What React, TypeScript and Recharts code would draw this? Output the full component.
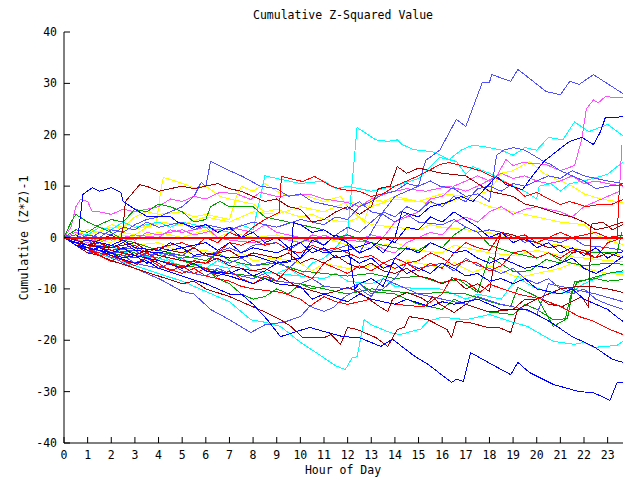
import React from 'react';
import { LineChart, Line, XAxis, YAxis } from 'recharts';

const FONT = '"DejaVu Sans Mono", "Liberation Mono", monospace';

const TITLE = 'Cumulative Z-Squared Value';
const X_LABEL = 'Hour of Day';
const Y_LABEL = 'Cumulative (Z*Z)-1';

const hourTicks = [0, 1, 2, 3, 4, 5, 6, 7, 8, 9, 10, 11, 12, 13, 14, 15, 16, 17, 18, 19, 20, 21, 22, 23];
const valueTicks = [-40, -30, -20, -10, 0, 10, 20, 30, 40];
const hourDomain = [0, 23.65];
const valueDomain = [-40, 40];

const BLUE = '#0000ff';
const LBLUE = '#5050ff';
const RED = '#ff0000';
const DRED = '#a80000';
const GREEN = '#00a000';
const CYAN = '#00ffff';
const MAGENTA = '#ff50ff';
const YELLOW = '#ffff00';

type Pt = [number, number];

const s01: Pt[] = [[0,0],[0.5,-1],[1,-2],[1.5,-2.5],[2,-3.5],[3,-5],[3.5,-4.5],[4,-6],[5,-7.5],[6,-9],[7,-11],[7.5,-11],[8,-13],[8.6,-16],[9.16,-19.3],[9.7,-18.5],[10.4,-17.5],[11,-18.3],[11.8,-19.3],[12.5,-19.5],[13.4,-21.2],[13.9,-19.8],[14.8,-23],[15.4,-24.7],[16.4,-28.2],[16.6,-27.6],[16.9,-28],[17.2,-22.4],[18.1,-24.7],[18.9,-26.7],[19.2,-24.3],[19.7,-26.3],[20.7,-28.6],[21.8,-30],[22.4,-30.2],[23.1,-31.7],[23.4,-28.2],[23.65,-28.2]];
const s02: Pt[] = [[0,0],[0.5,-1.5],[1,-2.5],[2,-4],[3,-5.5],[4,-7],[5,-8.5],[6,-10.5],[7,-12.5],[7.9,-16],[8.5,-16.5],[9.16,-17.3],[10,-20.4],[10.8,-22.8],[11.5,-25],[11.9,-25.7],[12.2,-23.4],[12.4,-23.2],[12.7,-16],[13,-17],[13.8,-18.5],[14.2,-18.9],[15.1,-17.8],[15.4,-16.3],[16,-15.5],[17,-16],[18,-15],[19,-16.5],[19.6,-17.3],[20.7,-20.2],[21.6,-20.8],[22,-20.4],[22.4,-21.4],[23.4,-21],[23.65,-20.2]];
const s03: Pt[] = [[0,0],[0.5,-1],[1,-2],[1.5,-3],[2,-3.5],[2.5,-5],[3,-6],[3.5,-7],[4.1,-8.2],[5,-10.5],[5.5,-11],[6.2,-14],[7,-16],[7.9,-18.5],[8.5,-17],[9.3,-16.5],[10,-15.4],[10.4,-13.4],[11,-14.4],[11.4,-13.6],[11.9,-11.5],[12.5,-10],[13,-11.5],[13.5,-8],[14,-9],[15,-11],[16,-12],[17,-13],[17.5,-11.5],[18.5,-13],[19.5,-14],[20,-15],[20.5,-9],[21.5,-10],[22.5,-11],[23.65,-12.5]];
const s04: Pt[] = [[0,0],[0.5,-1.5],[1,-2],[2,-3],[2.5,-2],[3,-3.5],[4,-4.5],[5,-6],[5.5,-5],[6,-6.5],[7,-7.5],[8,-9],[8.5,-8],[9,-9],[10,-9.5],[10.5,-12],[11,-11],[12,-12.5],[12.5,-11],[13,-12],[14,-13],[14.5,-12],[15.5,-13.5],[16,-12.5],[16.5,-13],[17.5,-12],[18.5,-14],[19.6,-14],[20.6,-16.5],[21.5,-19.3],[22.4,-21.2],[23.2,-23.7],[23.65,-24.3]];
const s05: Pt[] = [[0,0],[0.5,-1.5],[1,-2.5],[1.5,-3],[2,-3.5],[2.5,-4.5],[3,-5],[3.5,-4],[4,-5.5],[5,-7],[5.5,-6],[6,-7.5],[7,-8.5],[7.5,-9.5],[8,-10],[9.2,-10.7],[10,-12],[10.4,-13.4],[11,-11.5],[11.5,-12.5],[12,-13],[13,-12],[14,-13],[15.2,-13.5],[16,-11],[16.4,-7.8],[17,-8.5],[17.6,-10.7],[18,-9.1],[19.2,-11],[20.2,-12],[21,-13.4],[21.8,-15.4],[22.4,-16.3],[23.1,-17.9],[23.65,-18.9]];
const s06: Pt[] = [[0,0],[0.5,-1.5],[1,-3],[1.5,-3.5],[2,-4.5],[3,-6],[4,-7.5],[5,-9],[5.5,-8.5],[6,-10],[7,-11.5],[8,-13.5],[8.5,-14.5],[9.16,-16],[9.6,-17.3],[10.1,-19.5],[11,-19.5],[11.3,-18.9],[11.7,-20.8],[12,-17.5],[12.4,-17.9],[13.2,-19.5],[13.7,-21.2],[14.1,-17.9],[14.4,-17.5],[14.6,-15.4],[15.4,-16],[16.2,-17.9],[16.4,-19.5],[16.6,-16.3],[17.2,-16.6],[17.9,-17.5],[18.4,-17.5],[18.9,-18.5],[19.2,-14],[20.1,-11.7],[20.5,-13],[21.1,-13.4],[21.9,-11.5],[22.2,-13.6],[22.3,2.6],[22.8,3],[23.2,1.5],[23.65,2.5]];
const s07: Pt[] = [[0,0],[0.5,-1],[1,-1.5],[2,-2.5],[3,-3.5],[3.5,-2.5],[4,-3.5],[5,-4.5],[6,-5],[6.5,-4],[7,-5.5],[8,-6.5],[8.5,-6],[9.16,-7.6],[9.9,-9.7],[10.3,-10.1],[11,-11],[11.5,-10.5],[12,-9.7],[12.5,-10.7],[13.4,-13.6],[13.7,-14.4],[13.9,-12],[14.5,-10.7],[15.1,-11.7],[15.4,-12.6],[15.6,-11.5],[15.9,-13],[16.5,-14.6],[17,-13],[18,-14.5],[19,-14],[19.5,-12],[20,-12],[21,-10],[21.8,-9.5],[22.3,-9.5],[23,-10],[23.65,-10.7]];
const s08: Pt[] = [[0,0],[0.3,3],[0.5,4.5],[1,3],[1.5,2],[2,1],[2.5,-0.5],[3,-1],[4,-2.5],[5,-3.5],[6,-4.5],[6.5,-3],[7,-4.5],[8,-5.5],[9,-5],[10,-6.5],[11,-7],[12,-7.5],[13,-7],[14,-8],[15,-7.5],[15.9,-8.8],[16.7,-8.2],[17.5,-10.7],[18,-3.7],[19,-6.6],[19.7,-6.5],[20.4,-4.3],[21,-5],[21.7,-2.3],[22.5,-3],[23.4,-2.9],[23.6,1]];
const s09: Pt[] = [[0,0],[0.5,-1],[1,-0.5],[1.5,-2],[2,-1.5],[3,-3],[4,-4],[4.5,-3],[5,-4.5],[6,-6],[7,-7],[8,-7.5],[9,-8.5],[10,-9],[11,-10],[12,-11],[13,-10],[14,-10.5],[15,-11],[15.9,-10.7],[17,-11],[18.4,-13],[18.9,-13.4],[19.2,-9.7],[20,-11.5],[20.7,-17.3],[21.2,-16],[21.4,-12],[21.6,-8.6],[22.5,-8],[23,-8.5],[23.65,-8.2]];
const s10: Pt[] = [[0,0],[0.5,-1],[1,-0.5],[1.5,-2],[2,-2.5],[3,-2],[3.5,-3.5],[4,-3],[5,-4],[6,-3.5],[7,-5],[7.5,-4],[8,-5.5],[9,-4.5],[9.5,-6],[10.5,-2],[11,-3],[12,-1.5],[12.5,-3],[13,1],[13.5,5],[14,8],[14.5,9],[15,10],[15.3,15],[15.9,17],[16.6,23],[17,21.6],[17.7,30.2],[18,30.2],[18.1,31.7],[18.9,30.4],[19.2,32.7],[19.6,31.3],[20.4,28.4],[21,27.8],[21.4,30.4],[21.8,29.8],[22.4,31.7],[23.65,28]];
const s11: Pt[] = [[0,0],[0.3,2],[0.5,6],[0.7,7.4],[1,7],[1.2,5],[1.5,5],[2,4.5],[2.5,5.5],[3,5],[4,6],[4.5,7.5],[5,7],[5.5,8],[6,7.5],[6.6,8.8],[7.3,8.5],[7.9,7.4],[8.3,8.8],[9,8],[10.4,8.4],[11,7.5],[12,6.8],[12.5,6],[13,7.5],[13.8,8.8],[14.5,9.5],[15.3,9],[16.3,10],[17,9],[17.5,10],[18.3,11.9],[18.7,15.2],[19,14],[19.4,14.6],[20.4,14.2],[21,13],[21.6,14],[21.9,19],[22.1,25],[22.4,26.8],[22.6,26.2],[22.9,27.4],[23.65,27.2]];
const s12: Pt[] = [[0,0],[0.5,-1],[1,-1.5],[2,-2],[2.5,-1],[3,-2.5],[4,-3],[5,-2],[5.5,-3.5],[6,-3],[7,-4],[8,-3.5],[9,-5],[10,-4],[10.5,-2],[11,-3],[12,-2.5],[13,-1],[13.5,-3],[14,0],[14.3,5],[15,4],[15.5,6],[16.2,6.8],[16.8,8],[17.3,7],[18.3,11.9],[18.7,10.3],[19.4,9.3],[19.7,11.3],[20.3,14.8],[21.1,17.7],[21.4,18.7],[21.9,19.5],[22.4,18.1],[22.7,20.6],[22.9,23.3],[23.65,23.5]];
const s13: Pt[] = [[0,0],[0.5,-1.5],[1,-2],[2,-3],[2.5,-2],[3,-3.5],[4,-4],[5,-5.5],[6,-6],[6.5,-4.5],[7,-5.5],[8,-6.5],[9,-7],[10,-7.5],[10.5,-5],[11,-4],[11.5,-2],[12,1],[12.4,21.4],[13.2,19],[13.7,18.7],[14.1,19],[14.3,18.1],[14.8,17.1],[15.6,16.7],[16.3,15.2],[16.8,17],[17.3,18],[18,17.5],[18.5,17],[19,16],[19.5,17.5],[20,17],[20.5,19.5],[21.1,19],[21.6,22.5],[22.2,20.6],[23,22],[23.65,19.8]];
const s14: Pt[] = [[0,0],[0.5,1],[1,0.5],[1.5,2],[2,1.5],[2.5,3],[3,2],[4,3],[4.5,2],[5,3],[6,2],[7,1],[7.5,2.5],[8,1.5],[8.5,12],[9,11.5],[10,10.5],[11,11],[11.5,9.5],[12,10],[13,9],[14,10],[15,11.5],[15.9,15.6],[16.6,14.8],[17,12.3],[17.3,13.8],[18,12.5],[19,10],[19.5,9],[20,7.5],[20.1,10],[20.6,10.5],[21,9],[21.4,10.5],[22,11],[23,12.3],[23.4,13.8],[23.65,14.6]];
const s15: Pt[] = [[0,0],[0.5,-1],[1,-2],[1.5,-1],[2,-2.5],[3,-1.5],[3.5,-3],[4,-2],[5,-1],[5.5,-2],[6,0],[6.5,-1],[7,1],[7.5,0],[8,2],[8.5,3.5],[9.1,4.9],[9.2,11.9],[9.7,11.3],[10.1,10.9],[10.6,11.9],[11.3,10],[11.8,9.3],[12.5,9],[13,8],[13.5,8.5],[14,10],[14.5,11],[15,12],[15.5,13.2],[15.9,14.2],[16.3,14.6],[17,13.8],[17.6,13],[18.3,11.5],[19,10],[19.5,8],[20,8.8],[20.5,7.5],[21,6.4],[21.4,7],[22.1,6],[22.6,6.4],[23.2,6.5],[23.65,7.4]];
const s16: Pt[] = [[0,0],[0.5,-1],[1,-1.5],[1.5,-0.5],[2,0.5],[2.4,-0.5],[2.5,2],[2.6,7],[3.2,10.3],[3.6,9.8],[4,9],[4.5,9.5],[5,10],[5.5,9.5],[6,10],[6.5,10.5],[7,9.5],[7.5,9],[8,8],[8.5,7],[9,7.5],[9.5,6],[10,5.5],[10.5,3],[11,3.5],[11.5,5],[12,6],[12.5,4.5],[13,6],[13.3,9.5],[13.8,10],[14.1,13.8],[14.5,12.5],[15,13.5],[15.5,13],[16,12.5],[17,12],[17.5,10.5],[18,9],[18.5,8.5],[19,8],[19.5,6.5],[20,6],[21,4.5],[21.5,4],[22,3],[22.5,1.5],[23,2],[23.65,3]];
const s17: Pt[] = [[0,0],[0.5,-0.5],[1,-1],[1.5,0],[2,-0.5],[2.5,1],[3,0.5],[3.5,2],[3.9,2.5],[4.1,9.3],[4.2,11.7],[4.9,10.7],[5.5,9.7],[6,10],[6.6,8],[7,7.5],[8,6.5],[8.5,5],[9,5.5],[10,4],[10.5,4.5],[11,3.5],[12,3],[12.5,4],[13,2.5],[14,2],[15,1.5],[15.5,2.5],[16,2],[17,1.5],[18,1],[18.5,0],[19,0.5],[20,-1],[21,-1.5],[22,-2.5],[23,-3],[23.65,-3.5]];
const s18: Pt[] = [[0,0],[0.5,0.5],[1,1.5],[1.5,1],[2,2.5],[2.5,2],[3,4],[3.5,5],[4,4.5],[5,5],[5.5,4],[6,4.5],[7,3.5],[7.3,8],[7.5,10],[8,9],[8.5,10.5],[9,9],[9.5,8],[10,8.5],[11,7],[11.7,8],[12,6],[12.7,3],[13,7.5],[13.5,7],[14,8],[15,7],[16,6.5],[17,8],[17.5,7],[18,6],[19,5],[20,4],[21,3],[22,2.5],[22.5,0.5],[23,-0.5],[23.65,-1.4]];
const s19: Pt[] = [[0,0],[0.5,-0.5],[1,-1],[2,0],[2.5,-1],[3,-1.5],[4,-1],[4.5,-2],[5,-3],[6,-2.5],[7,-4],[7.5,-3],[8,-4.5],[9,-4],[10,-5],[10.5,-6.5],[11,-5],[12,-6],[13,-5.5],[14,-6],[14.5,-4.5],[15,-5],[15.9,-5.8],[16.5,-4.9],[17.3,-6.8],[18,-5.5],[19.2,-7.8],[20,-7],[21,-6],[21.5,-5],[22,-6],[23,-7],[23.65,-7.2]];
const s20: Pt[] = [[0,0],[0.5,1],[1,0.5],[2,2],[3,1.5],[4,3],[5,2.5],[6,4],[7,3],[8,5],[9,4.5],[10,6],[11,5],[12,7],[13,6],[14,7.5],[15,7],[16,8.5],[17,8],[18,9],[18.5,12.5],[19,13],[19.7,14.8],[20.3,12.5],[21,11],[21.5,10],[22,8.5],[22.7,7.5],[23.65,6.8]];
const s21: Pt[] = [[0,0],[0.5,-1],[1,0],[2,-1],[2.5,0.5],[3,0],[4,1],[5,0],[6,1.5],[6.5,0],[7,1],[8,0],[9,0.5],[10,-1],[11,0],[12,-1.5],[13,-2],[14,-1],[15,-2.5],[16,-3],[16.5,-1.5],[17,-2],[18,-3],[19,-3.5],[20,-2.5],[21,-3.5],[22,-4],[23,-4.5],[23.65,-4.7]];
const s22: Pt[] = [[0,0],[0.5,-0.5],[1,-1],[1.5,0],[2,-0.5],[3,0.5],[4,0],[4.5,1.5],[5,1],[6,2],[6.5,0],[7,-0.5],[8,-1],[9,0],[10,-1],[10.5,0.5],[11,0],[12,-0.5],[13,-1],[13.7,-2.7],[14,-3],[14.5,-1],[15,0],[15.5,1],[16,0.5],[16.5,3],[17,4],[17.5,3],[18,5],[18.5,6],[19,4.5],[19.5,5.5],[20,6],[21,5],[21.5,4],[22,6],[22.5,7],[23,8],[23.5,9],[23.6,18]];
const s23: Pt[] = [[0,0],[0.5,1],[1,0],[1.5,-1],[2,0],[3,-0.5],[3.5,1],[4,0.5],[5,1.5],[5.5,0.5],[6,1],[7,2],[8,1],[8.5,2.5],[9,1],[10,0],[10.5,-1],[11,0.5],[11.5,-0.5],[12,0.5],[12.5,-0.5],[13,0.5],[13.5,0],[14,3],[14.5,4],[15,5],[15.5,7.5],[16,8],[16.5,10],[17,11],[17.5,12],[18,11],[18.5,12.5],[19,11.5],[19.5,12],[20,11],[20.5,10.5],[21,11],[21.5,12],[22,10.5],[22.5,11],[23,10.5],[23.65,10]];
const s24: Pt[] = [[0,0],[0.5,1.5],[1,1],[1.5,2.5],[2,3.5],[2.5,3],[3,5.5],[3.5,5],[4,6.5],[4.5,6],[5,5],[5.5,3],[6,3.5],[6.2,6],[6.6,7],[7,6],[8,6],[8.5,4],[9,3.5],[10,2.5],[11,1.5],[11.5,0],[12,0.5],[13,-1],[14,-2],[15,-2.5],[15.5,-1],[16,-2],[16.5,0.5],[17,2],[17.5,1],[18,-1.5],[19,-3],[20,-4],[20.5,-3],[21,-4.5],[22,-5.5],[23,-5],[23.65,-5.2]];
const s25: Pt[] = [[0,0],[0.5,-1],[1,-2],[1.5,-1.5],[2,-3],[3,-4],[3.5,-3],[4,-4.5],[5,-5.5],[6,-6],[6.5,-8],[7,-9],[7.5,-11],[8,-12],[8.5,-11.5],[9,-10],[9.5,-11],[10,-9],[10.5,-10],[11,-9.5],[12,-10],[12.5,-9],[13,-10.5],[14,-11],[14.5,-12],[15,-13],[16,-14],[16.5,-12],[17,-13],[18,-14.5],[19,-15],[19.5,-13],[20,-14],[20.7,-16],[21.3,-15.8],[21.5,-10.7],[21.7,-8.8],[22.1,-8.2],[23,-7],[23.65,-6.5]];
const s26: Pt[] = [[0,0],[0.5,-1],[1,-0.5],[2,-1.5],[2.5,-0.5],[3,-2],[4,-2.5],[4.5,-1],[5,-2],[6,-1],[6.5,-2.5],[7,-1],[7.5,-3],[8,-2],[9,-3],[9.5,-2],[10,-4],[10.5,-0.5],[11,-1.5],[11.5,0.5],[12,-1],[12.5,-3],[13,-2],[13.5,0],[14,-1],[14.5,2],[15,1.5],[15.5,4],[16,3],[16.5,5],[17,3.5],[17.5,2],[18,0],[18.5,1],[19,-1],[19.5,0],[20,-2],[20.5,-1],[21,-3],[21.5,-2],[22,-3.5],[22.5,-2],[23,-4],[23.4,-3],[23.65,-2.8]];
const s27: Pt[] = [[0,0],[0.4,-1],[0.6,0.5],[0.8,8.4],[1.2,9.7],[1.5,9],[2,9.7],[2.4,8.8],[2.5,7],[3,5.5],[3.5,4.1],[4.5,4.1],[4.8,3],[5.5,2],[6,2.5],[6.5,1],[7,2],[7.5,0],[8,1],[8.5,-1],[9,0],[9.5,-2],[10,-1],[10.5,-3],[11,-2],[11.5,-4],[12,-3.5],[12.5,-5],[13,-4],[13.5,-6],[14,-5],[14.5,-7],[15,-6],[15.5,-7],[16,-5],[16.5,-6],[17,-7.5],[17.5,-7],[18,-8.5],[18.5,-8],[19,-9],[19.5,-8],[20,-10],[21,-11],[21.5,-10],[22,-12],[22.5,-13],[23,-14],[23.4,-15.5],[23.65,-16.3]];
const s28: Pt[] = [[0,0],[0.5,-1.5],[1,-2.5],[1.5,-2],[2,-3],[2.5,-4],[3,-3.5],[3.5,-5],[4,-4.5],[5,-6],[5.5,-5],[6,-6.5],[7,-7],[7.5,-6],[8,-7.5],[8.5,-6.5],[9,-5],[9.6,-4.7],[9.7,2.9],[10,2.5],[10.5,1],[11,1.5],[11.5,0],[12,-1],[12.3,-10],[12.5,-9],[13,-8],[13.5,-9.5],[14,-4],[14.5,-2],[15,-3],[15.5,-1],[16,-2],[16.5,-3],[17,-2.5],[17.5,-4],[18,-5],[18.5,-4],[19,-5],[19.5,-6],[20,-5.5],[20.5,-6],[21,-5],[21.5,-4],[22,-6],[22.5,-7],[23,-5.8],[23.65,-3.7]];
const s29: Pt[] = [[0,0],[0.5,-0.5],[1,0.5],[1.5,0],[2,1.5],[2.5,1],[3,2.5],[3.5,3.5],[4,4],[4.5,5],[5,6],[5.5,8],[5.8,10.7],[6,10],[6.2,14.8],[7,13],[7.5,12],[8.3,10],[9,9.5],[9.5,8],[10,8.5],[10.5,7],[11,6.5],[12,5.5],[12.5,7],[13,5],[13.5,4.5],[14,3],[14.5,4.5],[15,3],[16,2.5],[16.5,3.5],[17,2],[17.5,1],[18,1.5],[19,0.5],[19.5,-1],[20,0],[21,-1],[21.5,0],[22,-1.5],[23,-2],[23.65,-2.5]];
const s30: Pt[] = [[0,0],[0.5,-1],[1,-2.5],[1.5,-2],[2,-3],[3,-2.5],[3.5,-4],[4,-3],[5,-3.5],[5.5,-2],[6,-3.5],[7,-2],[7.5,-3],[8,-1.5],[9,-1],[9.5,-2.5],[10,-1],[10.5,0],[11,-1.5],[11.5,0.5],[12,2],[12.5,1],[13,3],[13.5,5],[14,4],[14.5,6],[15,5],[15.5,7],[16,6],[16.5,8],[17,7],[17.5,9.5],[18,10],[18.5,9],[19,10.5],[19.5,10],[20,11],[20.5,12],[21,11.5],[21.5,13],[22,12],[22.5,11.5],[23,11],[23.65,10.5]];
const s31: Pt[] = [[0,0],[0.5,-1.5],[1,-2],[1.5,-3.5],[2,-3],[2.5,-4.5],[3,-5.5],[3.5,-4],[4,-5],[4.5,-6.5],[5,-5.5],[5.5,-7],[6,-6],[6.5,-7.5],[7,-6.5],[7.5,-8],[8,-9],[8.5,-7.5],[9,-8.5],[9.5,-6],[10,-7],[10.5,-8],[11,-5],[11.5,-6],[12,-7],[12.5,-5.5],[13,-6.5],[13.5,-5],[14,-4],[14.5,-5],[15,-4.5],[15.5,-3],[16,-4],[16.5,-5.5],[17,-4.5],[17.5,-5],[18,-6.5],[18.5,-5.5],[19,-3],[19.5,-2.5],[20,-4],[20.5,-3],[21,-4],[21.5,-2.5],[22,-3],[22.5,-4],[23,-1],[23.4,-0.4],[23.5,10.3],[23.65,10.5]];
const s32: Pt[] = [[0,0],[0.5,-1],[1,-2.5],[1.5,-3.5],[2,-4.7],[2.5,-3],[3,-4],[3.5,-3],[4,-4.5],[4.5,-5],[5,-6],[5.5,-4.5],[6,-5],[6.5,-3],[7,-1],[7.5,-1.5],[8,-0.5],[8.5,-1.5],[9,-1],[9.5,-2.5],[10,-3],[10.5,-1.5],[11,-2.5],[11.5,-2],[12,-3],[12.5,-4],[13,-3.5],[13.5,-5],[14,-6],[14.5,-5],[15,-6.5],[15.5,-5],[16,-6],[16.5,-3],[17,-1],[17.5,-2],[18,-2.5],[18.5,1],[19,0],[19.5,0.5],[20,-1],[20.5,0],[21,1],[21.5,0],[22,0.5],[22.5,1],[23,0],[23.65,0.5]];
const s33: Pt[] = [[0,0],[0.5,-0.5],[1,-1.5],[1.5,-1],[2,-2],[3,-1],[3.5,-2.5],[4,-2],[5,-3],[5.5,-2],[6,-3.5],[7,-2.5],[7.5,-4],[8,-3],[9,-4],[9.5,-3],[10,-5],[10.5,-4],[11,-5],[11.5,-3.5],[12,-5],[12.5,-6],[13,-5],[13.5,-6.5],[14,-7],[14.5,-6],[15,-7.5],[15.5,-8],[16,-9],[16.5,-8],[17,-10],[17.5,-9],[18,-10.5],[18.3,-2],[18.5,1],[19,0.5],[19.5,-0.5],[20,-1],[20.5,-2],[21,-1.5],[21.5,-3],[22,-2.5],[22.5,-4],[23,-3],[23.65,-4]];
const s34: Pt[] = [[0,0],[0.5,-1],[1,-0.5],[1.5,-2],[2,-1.5],[2.5,-3],[3,-2.5],[3.5,-4],[4,-3],[4.5,-4.5],[5,-4],[5.5,-5.5],[6,-5],[7,-6],[7.5,-5],[8,-6.5],[9,-7],[9.5,-6],[10,-7.5],[11,-8],[11.5,-7],[12,-8.5],[13,-9],[13.5,-8],[14,-9.5],[15,-10],[15.9,-10],[16.5,-11],[17,-12],[17.5,-11],[18.5,-12],[19.2,-7.6],[19.6,-9],[20.1,-10],[20.8,-11],[21.5,-10.5],[22,-9],[22.5,-8],[23,-7],[23.65,-6.8]];
const s35: Pt[] = [[0,0],[0.5,-1.5],[1,-3],[1.5,-2.5],[2,-4],[2.5,-3.5],[3,-5],[4,-6],[4.5,-5],[5,-6.5],[6,-7.5],[6.5,-6],[7,-7],[8,-8],[8.5,-7],[9,-8.5],[10,-9],[10.5,-8],[11,-9.5],[12,-10],[12.5,-9],[13,-11],[13.5,-10],[14,-8],[14.5,-5],[15,-6],[16,-5],[16.5,-6.5],[17,-4],[17.5,-5.5],[18,-6],[18.5,-7],[19,-6],[19.5,-8],[20,-9],[20.5,-8],[21,-10],[21.5,-11],[22,-10],[22.5,-12],[23,-13],[23.65,-14]];
const s36: Pt[] = [[0,0],[0.5,0.5],[1,-0.5],[1.5,1],[2,0.5],[2.5,2],[3,1.5],[3.5,3],[4,2],[5,3],[5.5,1.5],[6,2.5],[7,1.5],[8,3],[9,2],[10,3.5],[11,2.5],[11.5,4],[12,3.5],[12.5,6],[13,7],[13.5,8.5],[14,9],[14.5,10.5],[15,10],[15.5,11],[15.9,10],[16.5,9.5],[17,8],[17.5,8.5],[18,7],[18.3,16],[18.6,17],[19,17.5],[19.5,17],[20.3,14.8],[20.6,14.2],[21,13],[21.5,12],[22,11],[22.5,9.5],[23,10],[23.65,10.2]];
const zeroLine: Pt[] = [[0,0],[23.65,0]];

const seriesList: { id: string; color: string; pts: Pt[] }[] = [
  { id: 's34', color: CYAN, pts: s34 },
  { id: 's19', color: YELLOW, pts: s19 },
  { id: 's21', color: YELLOW, pts: s21 },
  { id: 's17', color: YELLOW, pts: s17 },
  { id: 's18', color: YELLOW, pts: s18 },
  { id: 's20', color: YELLOW, pts: s20 },
  { id: 's02', color: CYAN, pts: s02 },
  { id: 's14', color: CYAN, pts: s14 },
  { id: 's13', color: CYAN, pts: s13 },
  { id: 's22', color: MAGENTA, pts: s22 },
  { id: 's23', color: MAGENTA, pts: s23 },
  { id: 's11', color: MAGENTA, pts: s11 },
  { id: 's08', color: GREEN, pts: s08 },
  { id: 's09', color: GREEN, pts: s09 },
  { id: 's24', color: GREEN, pts: s24 },
  { id: 's25', color: GREEN, pts: s25 },
  { id: 's03', color: LBLUE, pts: s03 },
  { id: 's10', color: LBLUE, pts: s10 },
  { id: 's29', color: LBLUE, pts: s29 },
  { id: 's30', color: LBLUE, pts: s30 },
  { id: 's35', color: LBLUE, pts: s35 },
  { id: 's36', color: LBLUE, pts: s36 },
  { id: 's06', color: DRED, pts: s06 },
  { id: 's07', color: DRED, pts: s07 },
  { id: 's16', color: DRED, pts: s16 },
  { id: 's33', color: DRED, pts: s33 },
  { id: 's05', color: RED, pts: s05 },
  { id: 's15', color: RED, pts: s15 },
  { id: 's31', color: RED, pts: s31 },
  { id: 's32', color: RED, pts: s32 },
  { id: 's01', color: BLUE, pts: s01 },
  { id: 's04', color: BLUE, pts: s04 },
  { id: 's12', color: BLUE, pts: s12 },
  { id: 's26', color: BLUE, pts: s26 },
  { id: 's27', color: BLUE, pts: s27 },
  { id: 's28', color: BLUE, pts: s28 },
];

const toRows = (pts: Pt[]) => pts.map(([h, v]) => ({ h, v }));

const TICK_LEN = 6;
const textStyle = { fontFamily: FONT, fontSize: 11.5, fill: '#000' } as const;

const BottomTick = (props: any) => {
  const { x, y, payload } = props;
  return (
    <g>
      <line x1={x} y1={y} x2={x} y2={y - TICK_LEN} stroke="#000" />
      <text x={x} y={y + 16} textAnchor="middle" style={textStyle}>{payload.value}</text>
    </g>
  );
};
const TopTick = (props: any) => {
  const { x, y } = props;
  return <line x1={x} y1={y} x2={x} y2={y + TICK_LEN} stroke="#000" />;
};
const LeftTick = (props: any) => {
  const { x, y, payload } = props;
  return (
    <g>
      <line x1={x} y1={y} x2={x + TICK_LEN} y2={y} stroke="#000" />
      <text x={x - 7} y={y + 4} textAnchor="end" style={textStyle}>{payload.value}</text>
    </g>
  );
};
const RightTick = (props: any) => {
  const { x, y } = props;
  return <line x1={x} y1={y} x2={x - TICK_LEN} y2={y} stroke="#000" />;
};

export default function App() {
  const labelStyle: React.CSSProperties = {
    position: 'absolute',
    fontFamily: FONT,
    fontSize: 11.5,
    color: '#000',
    whiteSpace: 'nowrap',
    lineHeight: '12px',
  };
  return (
    <div style={{ position: 'absolute', left: 0, top: 0, width: 640, height: 480, background: '#fff' }}>
      <style>{`.recharts-line-curve{shape-rendering:crispEdges}`}</style>
      <LineChart width={640} height={480} margin={{ top: 32, right: 17, bottom: 0, left: 0 }}>
        <XAxis
          xAxisId="b"
          dataKey="h"
          type="number"
          domain={hourDomain}
          ticks={hourTicks}
          allowDataOverflow
          height={37}
          tickSize={0}
          tickMargin={0}
          tickLine={false}
          axisLine={{ stroke: '#000' }}
          tick={<BottomTick />}
          interval={0}
        />
        <XAxis
          xAxisId="t"
          dataKey="h"
          type="number"
          orientation="top"
          domain={hourDomain}
          ticks={hourTicks}
          allowDataOverflow
          height={0}
          tickSize={0}
          tickMargin={0}
          tickLine={false}
          axisLine={{ stroke: '#000' }}
          tick={<TopTick />}
          interval={0}
        />
        <YAxis
          yAxisId="l"
          type="number"
          domain={valueDomain}
          ticks={valueTicks}
          allowDataOverflow
          width={64}
          tickSize={0}
          tickMargin={0}
          tickLine={false}
          axisLine={{ stroke: '#000' }}
          tick={<LeftTick />}
          interval={0}
        />
        <YAxis
          yAxisId="r"
          type="number"
          orientation="right"
          domain={valueDomain}
          ticks={valueTicks}
          allowDataOverflow
          width={0}
          tickSize={0}
          tickMargin={0}
          tickLine={false}
          axisLine={{ stroke: '#000' }}
          tick={<RightTick />}
          interval={0}
        />
        {seriesList.map((s) => (
          <Line
            key={s.id}
            xAxisId="b"
            yAxisId="l"
            data={toRows(s.pts)}
            dataKey="v"
            type="linear"
            stroke={s.color}
            strokeWidth={1}
            dot={false}
            activeDot={false}
            isAnimationActive={false}
          />
        ))}
        <Line
          key="zero"
          xAxisId="t"
          yAxisId="r"
          data={toRows(zeroLine)}
          dataKey="v"
          type="linear"
          stroke={RED}
          strokeWidth={2}
          dot={false}
          activeDot={false}
          isAnimationActive={false}
        />
      </LineChart>
      <div style={{ ...labelStyle, left: 0, width: 686, top: 9, textAlign: 'center' }}>{TITLE}</div>
      <div style={{ ...labelStyle, left: 63, width: 560, top: 464, textAlign: 'center' }}>{X_LABEL}</div>
      <div
        style={{
          ...labelStyle,
          left: 24,
          top: 238,
          transform: 'translate(-50%, -50%) rotate(-90deg)',
        }}
      >
        {Y_LABEL}
      </div>
    </div>
  );
}
